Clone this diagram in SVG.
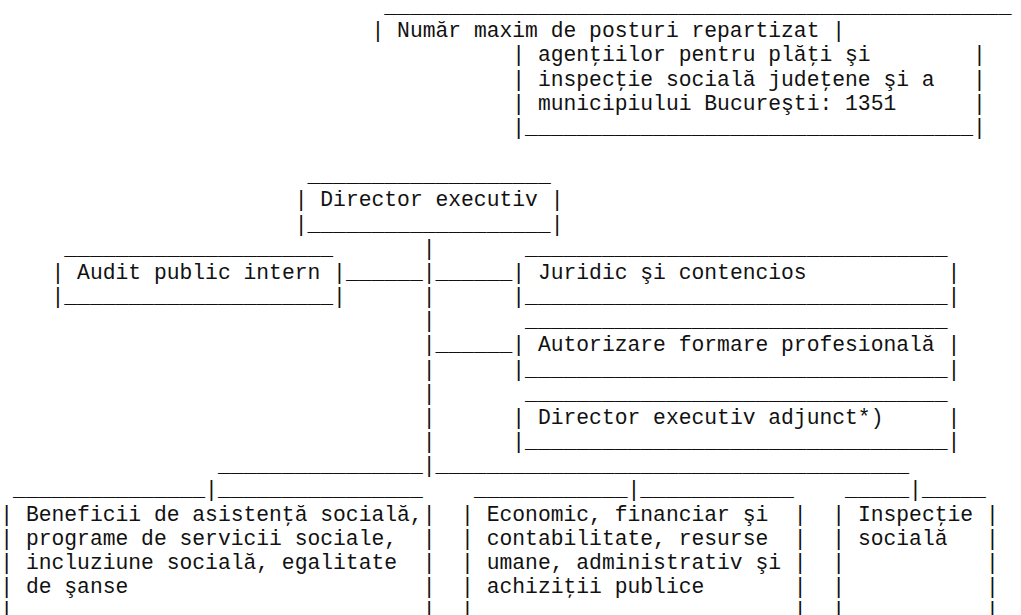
<svg xmlns="http://www.w3.org/2000/svg" width="1021" height="615" viewBox="0 0 1021 615" xml:space="preserve">
<style>
text { font-family: "Liberation Mono", "Courier New", monospace; font-size: 21.333px; fill: #111; white-space: pre; }
</style>
<rect width="1021" height="615" fill="#fff"/>
<g id="node-posturi">
<text x="384.3" y="13">_________________________________________________</text>
<text x="371.5" y="37.17">| Număr maxim de posturi repartizat |</text>
<text x="512.3" y="61.34">| agenţiilor pentru plăţi şi        |</text>
<text x="512.3" y="85.51">| inspecţie socială judeţene şi a   |</text>
<text x="512.3" y="109.68">| municipiului Bucureşti: 1351      |</text>
<text x="512.3" y="133.85">|___________________________________|</text>
</g>
<g id="node-director">
<text x="307.5" y="182.19">___________________</text>
<text x="294.7" y="206.36">| Director executiv |</text>
<text x="294.7" y="230.53">|___________________|</text>
</g>
<g id="node-audit">
<text x="64.3" y="254.7">_____________________</text>
<text x="51.5" y="278.87">| Audit public intern |</text>
<text x="51.5" y="303.04">|_____________________|</text>
</g>
<g id="node-juridic">
<text x="525.1" y="254.7">_________________________________</text>
<text x="512.3" y="278.87">| Juridic şi contencios           |</text>
<text x="512.3" y="303.04">|_________________________________|</text>
</g>
<g id="node-autorizare">
<text x="525.1" y="327.21">_________________________________</text>
<text x="512.3" y="351.38">| Autorizare formare profesională |</text>
<text x="512.3" y="375.55">|_________________________________|</text>
</g>
<g id="node-adjunct">
<text x="525.1" y="399.72">_________________________________</text>
<text x="512.3" y="423.89">| Director executiv adjunct*)     |</text>
<text x="512.3" y="448.06">|_________________________________|</text>
</g>
<g id="node-beneficii">
<text x="13.1" y="496.4">_______________</text>
<text x="217.9" y="496.4">________________</text>
<text x="0.3" y="520.57">| Beneficii de asistenţă socială,|</text>
<text x="0.3" y="544.74">| programe de servicii sociale,  |</text>
<text x="0.3" y="568.91">| incluziune socială, egalitate  |</text>
<text x="0.3" y="593.08">| de şanse                       |</text>
<text x="0.3" y="617.25">|                                |</text>
</g>
<g id="node-economic">
<text x="473.9" y="496.4">____________</text>
<text x="640.3" y="496.4">____________</text>
<text x="461.1" y="520.57">| Economic, financiar şi  |</text>
<text x="461.1" y="544.74">| contabilitate, resurse  |</text>
<text x="461.1" y="568.91">| umane, administrativ şi |</text>
<text x="461.1" y="593.08">| achiziţii publice       |</text>
<text x="461.1" y="617.25">|                         |</text>
</g>
<g id="node-inspectie">
<text x="845.1" y="496.4">_____</text>
<text x="921.9" y="496.4">_____</text>
<text x="832.3" y="520.57">| Inspecţie |</text>
<text x="832.3" y="544.74">| socială   |</text>
<text x="832.3" y="568.91">|           |</text>
<text x="832.3" y="593.08">|           |</text>
<text x="832.3" y="617.25">|           |</text>
</g>
<g id="connectors">
<text x="422.7" y="254.7">|</text>
<text x="345.9" y="278.87">______|______</text>
<text x="422.7" y="303.04">|</text>
<text x="422.7" y="327.21">|</text>
<text x="422.7" y="351.38">|______</text>
<text x="422.7" y="375.55">|</text>
<text x="422.7" y="399.72">|</text>
<text x="422.7" y="423.89">|</text>
<text x="422.7" y="448.06">|</text>
<text x="217.9" y="472.23">________________|_____________________________________</text>
<text x="205.1" y="496.4">|</text>
<text x="627.5" y="496.4">|</text>
<text x="909.1" y="496.4">|</text>
</g>
</svg>
